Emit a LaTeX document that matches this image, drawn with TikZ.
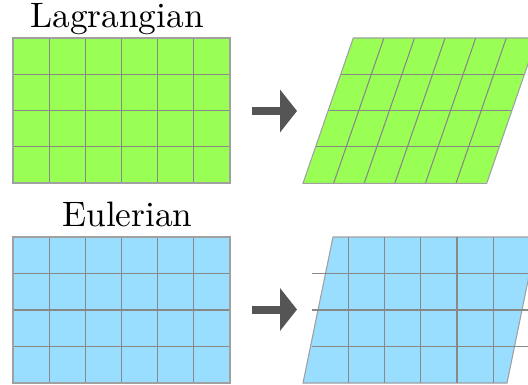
\documentclass[tikz,border=0pt]{standalone}
\usepackage{fontspec}
\usepackage{tikz}
\usetikzlibrary{arrows.meta}
\newfontfamily\titlefont{lmroman10-regular}[Extension=.otf]
\definecolor{lagfill}{HTML}{99FF55}
\definecolor{eulfill}{HTML}{99DDFF}
\definecolor{gridgray}{HTML}{888888}
\definecolor{rimgray}{HTML}{A0A0A0}
\definecolor{arrowgray}{HTML}{555555}

\begin{document}
\begin{tikzpicture}[x=0.75pt,y=-0.75pt,
  cellline/.style={draw=gridgray,line width=0.8pt},
  rim/.style={draw=rimgray,line width=0.8pt},
  ttl/.style={font=\titlefont\fontsize{26.5}{30}\selectfont,anchor=base,inner sep=0pt},
  bigarrow/.style={draw=arrowgray,line width=6pt,-{Triangle[length=12.75pt,width=31.5pt]}}]
  \useasboundingbox (0,0) rectangle (528,385);
  % Lagrangian
  \node[ttl] (lagtitle) at (117,27.3) {Lagrangian};
  \fill[lagfill] (13,38) rectangle (230,183);
  \foreach \i in {1,...,5} \draw[cellline] (13+36.17*\i,38) -- (13+36.17*\i,183);
  \foreach \j in {1,2,3} \draw[cellline] (13,38+36.25*\j) -- (230,38+36.25*\j);
  \draw[rim] (13,38) rectangle (230,183);
  \coordinate (lagfrom) at (252,111);
  \coordinate (lagto) at (297,111);
  \draw[bigarrow] (lagfrom) -- (lagto);
  % mesh moves with the material
  \fill[lagfill] (353.3,38) -- (537,38) -- (486.7,183.3) -- (303,183.3) -- cycle;
  \foreach \i in {1,...,5} \draw[cellline] (353.3+30.6*\i,38) -- (303+30.6*\i,183.3);
  \foreach \j in {1,2,3} \draw[cellline] (353.3-12.58*\j,38+36.3*\j) -- (537-12.58*\j,38+36.3*\j);
  \draw[rim] (353.3,38) -- (537,38) -- (486.7,183.3) -- (303,183.3) -- cycle;
  % Eulerian
  \node[ttl] (eultitle) at (127.5,226.7) {Eulerian};
  \fill[eulfill] (13,237) rectangle (230,383);
  \foreach \i in {1,...,5} \draw[cellline] (13+36.17*\i,237) -- (13+36.17*\i,383);
  \foreach \j in {1,2,3} \draw[cellline] (13,237+36.5*\j) -- (230,237+36.5*\j);
  \draw[rim] (13,237) rectangle (230,383);
  \coordinate (eulfrom) at (252,309.5);
  \coordinate (eulto) at (297,309.5);
  \draw[bigarrow] (eulfrom) -- (eulto);
  % mesh stays fixed
  \fill[eulfill] (333,237) -- (537,237) -- (507,383) -- (303,383) -- cycle;
  \draw[rim] (333,237) -- (537,237) -- (507,383) -- (303,383) -- cycle;
  \foreach \i in {1,...,5} \draw[cellline] (312+36.25*\i,237) -- (312+36.25*\i,383);
  \foreach \j in {1,2,3} \draw[cellline] (312,237+36.5*\j) -- (530,237+36.5*\j);
\end{tikzpicture}
\end{document}
